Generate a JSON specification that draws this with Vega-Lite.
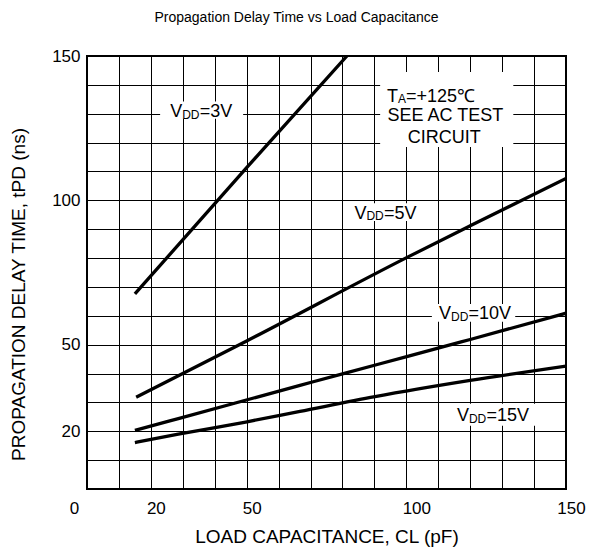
{
  "$schema": "https://vega.github.io/schema/vega-lite/v6.json",
  "width": 479,
  "height": 433,
  "autosize": "none",
  "padding": {"left": 87, "top": 56, "right": 24, "bottom": 60},
  "background": "white",
  "config": {
    "view": {"stroke": "black", "strokeWidth": 2},
    "font": "Liberation Sans",
    "text": {"font": "Liberation Sans", "color": "black"}
  },
  "title": {
    "text": "Propagation Delay Time vs Load Capacitance",
    "fontSize": 14,
    "fontWeight": "normal",
    "font": "Liberation Sans",
    "color": "black",
    "frame": "group",
    "anchor": "middle",
    "dx": -30,
    "baseline": "alphabetic",
    "offset": 11
  },
  "datasets": {
    "bg": [
      {"x": 22.9, "x2": 48.9, "y": 128.3, "y2": 134.2},
      {"x": 82.4, "x2": 104.4, "y": 92.8, "y2": 99.0},
      {"x": 108.0, "x2": 134.1, "y": 57.9, "y2": 64.1},
      {"x": 114.1, "x2": 140.4, "y": 21.9, "y2": 29.5},
      {"x": 91.8, "x2": 133.5, "y": 118.5, "y2": 144.5}
    ],
    "curves": [
      {"vdd": "3V", "x": 15, "y": 67.6},
      {"vdd": "3V", "x": 50, "y": 111.3},
      {"vdd": "3V", "x": 81.4, "y": 150},
      {"vdd": "5V", "x": 15.4, "y": 31.8},
      {"vdd": "5V", "x": 49.7, "y": 51.1},
      {"vdd": "5V", "x": 100.7, "y": 80.5},
      {"vdd": "5V", "x": 120, "y": 91.2},
      {"vdd": "5V", "x": 150, "y": 107.6},
      {"vdd": "10V", "x": 15, "y": 20.3},
      {"vdd": "10V", "x": 28.6, "y": 24.4},
      {"vdd": "10V", "x": 66.7, "y": 35.9},
      {"vdd": "10V", "x": 80.3, "y": 40.0},
      {"vdd": "10V", "x": 100.7, "y": 46.0},
      {"vdd": "10V", "x": 120, "y": 51.8},
      {"vdd": "10V", "x": 150, "y": 60.9},
      {"vdd": "15V", "x": 15, "y": 16.1},
      {"vdd": "15V", "x": 28.6, "y": 19.0},
      {"vdd": "15V", "x": 49.7, "y": 23.2},
      {"vdd": "15V", "x": 66.7, "y": 26.9},
      {"vdd": "15V", "x": 90.2, "y": 32.0},
      {"vdd": "15V", "x": 120, "y": 37.6},
      {"vdd": "15V", "x": 150, "y": 42.6}
    ],
    "vlabels": [
      {"x": 29.8, "y": 128.7, "pre": "V", "sub": "DD", "post": "=3V"},
      {"x": 87.5, "y": 93.6, "pre": "V", "sub": "DD", "post": "=5V"},
      {"x": 114.0, "y": 58.8, "pre": "V", "sub": "DD", "post": "=10V"},
      {"x": 119.6, "y": 23.5, "pre": "V", "sub": "DD", "post": "=15V"}
    ],
    "talabel": [
      {"x": 97.4, "y": 134.2, "pre": "T", "sub": "A", "post": "=+125℃"}
    ],
    "notes": [
      {"x": 112.2, "y": 129.1, "text": "SEE AC TEST"},
      {"x": 111.9, "y": 121.6, "text": "CIRCUIT"}
    ]
  },
  "encoding": {
    "x": {
      "field": "x",
      "type": "quantitative",
      "scale": {"domain": [0, 150], "nice": false, "zero": false},
      "axis": {
        "title": "LOAD CAPACITANCE, CL (pF)",
        "values": [0, 10, 20, 30, 40, 50, 60, 70, 80, 90, 100, 110, 120, 130, 140, 150],
        "labelExpr": "indexof([0, 20, 50, 100, 150], datum.value) >= 0 ? datum.label : ''",
        "grid": true,
        "gridColor": "black",
        "gridWidth": 1,
        "gridOpacity": 1,
        "domain": false,
        "ticks": false,
        "labelFont": "Liberation Sans",
        "labelFontSize": 17,
        "labelColor": "black",
        "labelPadding": 19,
        "labelBaseline": "middle",
        "labelFlush": false,
        "labelOverlap": false,
        "labelOffset": {"condition": [{"test": "datum.value == 0", "value": -13}, {"test": "datum.value == 100", "value": 10}], "value": 5},
        "titleFont": "Liberation Sans",
        "titleFontSize": 19,
        "titleFontWeight": "normal",
        "titleColor": "black",
        "titlePadding": 11
      }
    },
    "y": {
      "field": "y",
      "type": "quantitative",
      "scale": {"domain": [0, 150], "nice": false, "zero": false},
      "axis": {
        "title": "PROPAGATION DELAY TIME, tPD (ns)",
        "values": [0, 10, 20, 30, 40, 50, 60, 70, 80, 90, 100, 110, 120, 130, 140, 150],
        "labelExpr": "indexof([20, 50, 100, 150], datum.value) >= 0 ? datum.label : ''",
        "grid": true,
        "gridColor": "black",
        "gridWidth": 1,
        "gridOpacity": 1,
        "domain": false,
        "ticks": false,
        "labelFont": "Liberation Sans",
        "labelFontSize": 17,
        "labelColor": "black",
        "labelPadding": 7,
        "labelFlush": false,
        "labelOverlap": false,
        "titleFont": "Liberation Sans",
        "titleFontSize": 19,
        "titleFontWeight": "normal",
        "titleColor": "black",
        "titlePadding": 23,
        "titleY": 238
      }
    }
  },
  "layer": [
    {
      "data": {"name": "bg"},
      "mark": {"type": "rect", "fill": "white", "stroke": null},
      "encoding": {
        "x2": {"field": "x2"},
        "y2": {"field": "y2"}
      }
    },
    {
      "data": {"name": "curves"},
      "mark": {"type": "line", "color": "black", "strokeWidth": 3.3, "clip": true, "interpolate": "monotone"},
      "encoding": {
        "detail": {"field": "vdd", "type": "nominal"}
      }
    },
    {
      "data": {"name": "vlabels"},
      "mark": {"type": "text", "align": "right", "baseline": "alphabetic", "fontSize": 18},
      "encoding": {"text": {"field": "pre"}}
    },
    {
      "data": {"name": "vlabels"},
      "mark": {"type": "text", "align": "left", "baseline": "alphabetic", "fontSize": 12, "dy": 1.5},
      "encoding": {"text": {"field": "sub"}}
    },
    {
      "data": {"name": "vlabels"},
      "mark": {"type": "text", "align": "left", "baseline": "alphabetic", "fontSize": 18, "dx": 17.5},
      "encoding": {"text": {"field": "post"}}
    },
    {
      "data": {"name": "talabel"},
      "mark": {"type": "text", "align": "right", "baseline": "alphabetic", "fontSize": 18},
      "encoding": {"text": {"field": "pre"}}
    },
    {
      "data": {"name": "talabel"},
      "mark": {"type": "text", "align": "left", "baseline": "alphabetic", "fontSize": 12, "dy": 1.5},
      "encoding": {"text": {"field": "sub"}}
    },
    {
      "data": {"name": "talabel"},
      "mark": {"type": "text", "align": "left", "baseline": "alphabetic", "fontSize": 18, "dx": 8},
      "encoding": {"text": {"field": "post"}}
    },
    {
      "data": {"name": "notes"},
      "mark": {"type": "text", "align": "center", "baseline": "middle", "fontSize": 18},
      "encoding": {"text": {"field": "text"}}
    }
  ]
}
